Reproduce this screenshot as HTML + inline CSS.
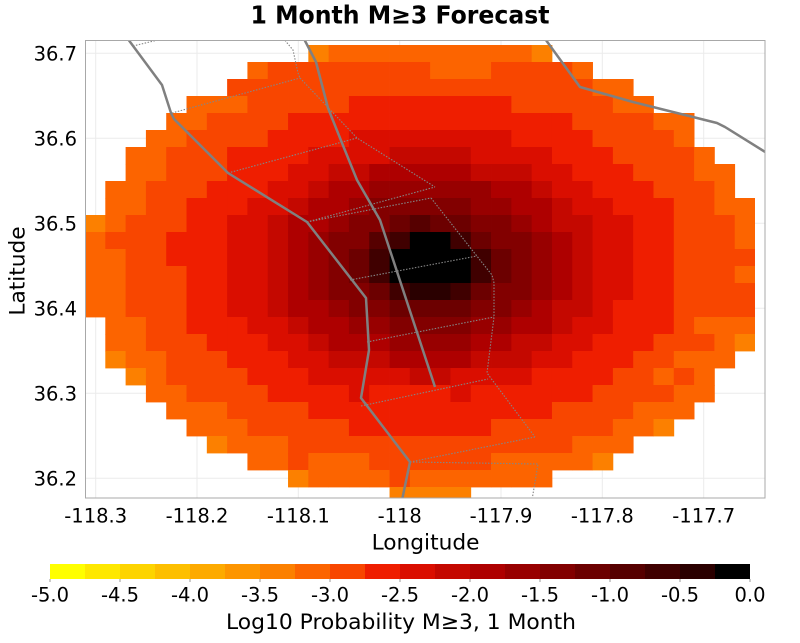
<!DOCTYPE html>
<html><head><meta charset="utf-8">
<style>
html,body{margin:0;padding:0;background:#fff;width:800px;height:643px;overflow:hidden}
svg{display:block}
text{font-family:"DejaVu Sans","Liberation Sans",sans-serif;fill:#000}
</style></head><body>
<svg id="s" width="800" height="643" viewBox="0 0 800 643" xmlns="http://www.w3.org/2000/svg">
<defs><clipPath id="pc"><rect x="85" y="40" width="680" height="458"/></clipPath></defs>
<rect width="800" height="643" fill="#fff"/>
<text x="400" y="23.5" text-anchor="middle" font-size="24.5" font-weight="bold" textLength="299" lengthAdjust="spacingAndGlyphs">1 Month M≥3 Forecast</text>

<g stroke="#ebebeb" stroke-width="1">
<line x1="95.7" y1="40" x2="95.7" y2="498"/>
<line x1="197" y1="40" x2="197" y2="498"/>
<line x1="298.3" y1="40" x2="298.3" y2="498"/>
<line x1="399.7" y1="40" x2="399.7" y2="498"/>
<line x1="501" y1="40" x2="501" y2="498"/>
<line x1="602.3" y1="40" x2="602.3" y2="498"/>
<line x1="703.7" y1="40" x2="703.7" y2="498"/>
<line x1="85" y1="53.3" x2="765" y2="53.3"/>
<line x1="85" y1="138.3" x2="765" y2="138.3"/>
<line x1="85" y1="223.3" x2="765" y2="223.3"/>
<line x1="85" y1="308.3" x2="765" y2="308.3"/>
<line x1="85" y1="393.3" x2="765" y2="393.3"/>
<line x1="85" y1="478.3" x2="765" y2="478.3"/>
</g>

<g id="cells"></g>

<g clip-path="url(#pc)">
<g fill="none" stroke="#858585" stroke-width="1.1" stroke-dasharray="1.5 1.5">
<path d="M133,46 L162,39"/>
<path d="M283,38 L293,50 L298,73 L300,78"/>
<path d="M172,113 L300,78"/>
<path d="M300,78 L357,138 L435,187"/>
<path d="M228,173 L357,138"/>
<path d="M307,222 L435,187"/>
<path d="M307,222 L431,198"/>
<path d="M431,198 L480,260 L492,275 L494,283 L494,317 L487,373 L535,437"/>
<path d="M350,280 L477,256"/>
<path d="M367,342 L494,317"/>
<path d="M361,406 L488,379"/>
<path d="M410,462 L535,437"/>
<path d="M410,462 L538,464 L532,500"/>
</g>
<g fill="none" stroke="#808080" stroke-width="2.5" stroke-linejoin="round">
<path d="M122,31 L162,85 L171,113 L174,119 L228,173 L307,222 L366,298 L369,350 L361,398 L410,462 L401,505"/>
<path d="M302,35 L316,62 L328,108 L342,143 L357,180 L380,220 L435,387"/>
<path d="M543,36 L580,87 L633,102 L653,107 L693,117 L717,123 L725,127 L770,155"/>
</g>
</g>

<rect x="85.5" y="40.5" width="679.5" height="457.5" fill="none" stroke="#a8a8a8" stroke-width="1"/>

<g font-size="19.5" text-anchor="end">
<text x="77" y="60.6">36.7</text>
<text x="77" y="145.6">36.6</text>
<text x="77" y="230.6">36.5</text>
<text x="77" y="315.6">36.4</text>
<text x="77" y="400.6">36.3</text>
<text x="77" y="485.6">36.2</text>
</g>
<g font-size="19.5" text-anchor="middle">
<text x="95.7" y="522.5">-118.3</text>
<text x="197" y="522.5">-118.2</text>
<text x="298.3" y="522.5">-118.1</text>
<text x="399.7" y="522.5">-118</text>
<text x="501" y="522.5">-117.9</text>
<text x="602.3" y="522.5">-117.8</text>
<text x="703.7" y="522.5">-117.7</text>
</g>
<text x="425.5" y="549.5" font-size="21.7" text-anchor="middle">Longitude</text>
<text transform="translate(24.5,271) rotate(-90)" font-size="21.7" text-anchor="middle">Latitude</text>

<g id="cbar"></g>
<g stroke="#999" stroke-width="1">
<line x1="50" y1="579" x2="50" y2="582"/><line x1="120" y1="579" x2="120" y2="582"/><line x1="190" y1="579" x2="190" y2="582"/><line x1="260" y1="579" x2="260" y2="582"/><line x1="330" y1="579" x2="330" y2="582"/><line x1="400" y1="579" x2="400" y2="582"/><line x1="470" y1="579" x2="470" y2="582"/><line x1="540" y1="579" x2="540" y2="582"/><line x1="610" y1="579" x2="610" y2="582"/><line x1="680" y1="579" x2="680" y2="582"/><line x1="750" y1="579" x2="750" y2="582"/>
</g>
<g font-size="19.5" text-anchor="middle">
<text x="50" y="601.5">-5.0</text>
<text x="120" y="601.5">-4.5</text>
<text x="190" y="601.5">-4.0</text>
<text x="260" y="601.5">-3.5</text>
<text x="330" y="601.5">-3.0</text>
<text x="400" y="601.5">-2.5</text>
<text x="470" y="601.5">-2.0</text>
<text x="540" y="601.5">-1.5</text>
<text x="610" y="601.5">-1.0</text>
<text x="680" y="601.5">-0.5</text>
<text x="750" y="601.5">0.0</text>
</g>
<text x="401" y="629" font-size="21.7" text-anchor="middle" textLength="350" lengthAdjust="spacingAndGlyphs">Log10 Probability M≥3, 1 Month</text>
</svg>
<script>
(function(){
var ns='http://www.w3.org/2000/svg';
var P={A:'#fc8000',B:'#fc6400',C:'#f84600',D:'#ef1e00',E:'#da0e00',F:'#c40800',G:'#ae0000',H:'#980000',I:'#820000',J:'#6c0000',K:'#560000',L:'#400000',M:'#2a0000',N:'#000000'};
var R=[[11,22],[8,24],[7,26],[5,27],[4,29],[3,29],[2,30],[2,31],[1,31],[1,32],[0,32],[0,32],[0,32],[0,32],[0,32],[0,32],[1,32],[1,32],[1,31],[2,30],[3,30],[4,29],[5,28],[6,26],[8,25],[10,22],[15,18]];
var T=[[3.45,'N'],[4.1,'M'],[4.8,'L'],[5.5,'K'],[6.9,'J'],[8.9,'I'],[10.9,'H'],[12.9,'G'],[14.9,'F'],[18.0,'E'],[22.2,'D'],[26.8,'C'],[29.6,'B'],[999,'A']];
var O=[[0,11,11,'A'],[0,22,22,'A'],
[1,8,8,'B'],[1,9,16,'C'],[1,17,19,'B'],[1,20,23,'C'],[1,24,24,'B'],
[2,7,24,'C'],[2,25,26,'B'],
[11,0,0,'B'],[12,0,0,'B'],[13,0,0,'B'],[14,0,0,'B'],[15,0,0,'B'],
[11,1,1,'C'],[11,4,4,'D'],[12,4,4,'D'],
[12,32,32,'C'],[14,32,32,'C'],[15,32,32,'C'],
[16,30,30,'B'],[18,29,29,'B'],[19,28,28,'B'],[19,29,29,'C'],
[19,12,15,'E'],[19,16,17,'F'],[19,18,21,'E'],[19,22,23,'D'],
[20,11,12,'D'],[20,13,13,'E'],[20,14,17,'D'],[20,18,18,'E'],[20,19,23,'D'],
[21,4,6,'B'],
[22,20,20,'C'],[22,22,22,'C'],
[24,8,9,'B'],[24,10,10,'C'],[24,11,13,'B'],[24,14,19,'C'],[24,20,24,'B'],[24,25,25,'A'],
[25,10,10,'A'],[25,11,14,'B'],[25,15,15,'C'],[25,16,22,'B'],
[26,15,18,'A']];
var g=document.getElementById('cells'),cw=20.303,cx=429,cy=265,kx=11.33,ky=7.645;
for(var r=0;r<27;r++){
 var y=45+r*17,h=(r==26)?11:17.4;
 var dy=(y+8.5-cy)/ky,row={},c;
 for(c=R[r][0];c<=R[r][1];c++){
  var dx=(85+(c+0.5)*cw-cx)/kx,d=Math.sqrt(dx*dx+dy*dy),Lt='A';
  for(var i=0;i<T.length;i++){if(d<T[i][0]){Lt=T[i][1];break;}}
  row[c]=Lt;
 }
 for(var k=0;k<O.length;k++){var o=O[k];if(o[0]==r){for(c=o[1];c<=o[2];c++)row[c]=o[3];}}
 for(c=R[r][0];c<=R[r][1];c++){
  var e=document.createElementNS(ns,'rect');
  var x=85+c*cw;
  e.setAttribute('x',x.toFixed(2));
  e.setAttribute('y',y);
  e.setAttribute('width',(c==32?(755-x):(cw+0.4)).toFixed(2));
  e.setAttribute('height',h);
  e.setAttribute('fill',P[row[c]]);
  g.appendChild(e);
 }
}
var cb=['#ffff00','#fee800','#fdd400','#fdbf00','#fdaa00','#fd9500','#fc8000','#fc6400','#f84600','#ef1e00','#da0e00','#c40800','#ae0000','#980000','#820000','#6c0000','#560000','#400000','#2a0000','#000000'];
var gb=document.getElementById('cbar');
for(var j=0;j<20;j++){
 var q=document.createElementNS(ns,'rect');
 q.setAttribute('x',50+j*35);q.setAttribute('y',564);
 q.setAttribute('width',j==19?35:35.5);q.setAttribute('height',15);
 q.setAttribute('fill',cb[j]);gb.appendChild(q);
}
})();
</script>
</body></html>
